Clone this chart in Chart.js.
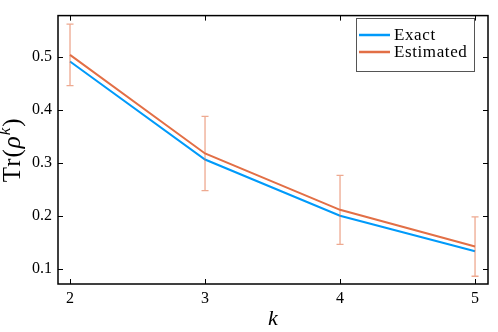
<!DOCTYPE html>
<html>
<head>
<meta charset="utf-8">
<script src="https://cdn.jsdelivr.net/npm/chart.js@4/dist/chart.umd.min.js"></script>
<style>
  html, body { margin: 0; padding: 0; background: #fff; }
  #wrap { width: 498px; height: 332px; }
</style>
</head>
<body>
<div id="wrap"><canvas id="chart"></canvas></div>
<script>
const kValues = [2, 3, 4, 5];
const exactValues = [0.4915, 0.3066, 0.2005, 0.1337];
const estimatedValues = [0.504, 0.318, 0.2117, 0.1424];
const errorValues = [0.058, 0.070, 0.065, 0.056];
const xTicks = [2, 3, 4, 5];
const yTicks = [0.1, 0.2, 0.3, 0.4, 0.5];

const FONT = "'Liberation Serif', 'Times New Roman', serif";

function toPoints(values) {
  return kValues.map(function (k, i) {
    return { x: k, y: values[i] };
  });
}

// error bars on the estimated series
const errorBarPlugin = {
  id: "errorBars",
  afterDatasetsDraw: function (chart) {
    const ctx = chart.ctx;
    const x = chart.scales.x;
    const y = chart.scales.y;
    ctx.save();
    ctx.strokeStyle = "rgba(226, 111, 70, 0.6)";
    ctx.lineWidth = 1.3;
    kValues.forEach(function (k, i) {
      const px = x.getPixelForValue(k);
      const top = y.getPixelForValue(estimatedValues[i] + errorValues[i]);
      const bot = y.getPixelForValue(estimatedValues[i] - errorValues[i]);
      ctx.beginPath();
      ctx.moveTo(px, top);
      ctx.lineTo(px, bot);
      ctx.moveTo(px - 3.5, top);
      ctx.lineTo(px + 3.5, top);
      ctx.moveTo(px - 3.5, bot);
      ctx.lineTo(px + 3.5, bot);
      ctx.stroke();
    });
    ctx.restore();
  }
};

// box frame, inward ticks, y title with superscript, legend box
const framePlugin = {
  id: "frame",
  afterDraw: function (chart) {
    const ctx = chart.ctx;
    const a = chart.chartArea;
    const x = chart.scales.x;
    const y = chart.scales.y;
    ctx.save();
    ctx.strokeStyle = "#000";
    ctx.lineWidth = 1.5;
    ctx.strokeRect(a.left, a.top, a.right - a.left, a.bottom - a.top);

    ctx.lineWidth = 1;
    ctx.beginPath();
    xTicks.forEach(function (t) {
      const px = Math.round(x.getPixelForValue(t)) + 0.5;
      ctx.moveTo(px, a.bottom);
      ctx.lineTo(px, a.bottom - 5);
      ctx.moveTo(px, a.top);
      ctx.lineTo(px, a.top + 5);
    });
    yTicks.forEach(function (t) {
      const py = Math.round(y.getPixelForValue(t)) + 0.5;
      ctx.moveTo(a.left, py);
      ctx.lineTo(a.left + 5, py);
      ctx.moveTo(a.right, py);
      ctx.lineTo(a.right - 5, py);
    });
    ctx.stroke();

    // y title: Tr(ρ^k)
    ctx.fillStyle = "#000";
    ctx.textBaseline = "alphabetic";
    ctx.letterSpacing = "1px";
    const big = "25px " + FONT;
    const bigIt = "italic 25px " + FONT;
    const small = "italic 17px " + FONT;
    const parts = [
      { t: "Tr(", f: big, dy: 0 },
      { t: "\u03c1", f: bigIt, dy: 0 },
      { t: "k", f: small, dy: -10 },
      { t: ")", f: big, dy: 0 }
    ];
    let total = 0;
    parts.forEach(function (p) {
      ctx.font = p.f;
      p.w = ctx.measureText(p.t).width;
      total += p.w;
    });
    ctx.translate(20, (a.top + a.bottom) / 2);
    ctx.rotate(-Math.PI / 2);
    let cx = -total / 2;
    parts.forEach(function (p) {
      ctx.font = p.f;
      ctx.fillText(p.t, cx, p.dy);
      cx += p.w;
    });
    ctx.setTransform(1, 0, 0, 1, 0, 0);

    // legend
    const lx = 356, ly = 18, lw = 118, lh = 53;
    ctx.fillStyle = "#fff";
    ctx.fillRect(lx, ly, lw, lh);
    ctx.strokeStyle = "#555";
    ctx.lineWidth = 1;
    ctx.strokeRect(lx + 0.5, ly + 0.5, lw, lh);
    ctx.font = "17px " + FONT;
    ctx.letterSpacing = "0.6px";
    ctx.textBaseline = "middle";
    chart.data.datasets.forEach(function (ds, i) {
      const yy = ly + 17 + i * 17;
      ctx.strokeStyle = ds.borderColor;
      ctx.lineWidth = 2.5;
      ctx.beginPath();
      ctx.moveTo(lx + 3, yy);
      ctx.lineTo(lx + 34, yy);
      ctx.stroke();
      ctx.fillStyle = "#000";
      ctx.fillText(ds.label, lx + 38, yy + 1);
    });
    ctx.restore();
  }
};

new Chart(document.getElementById("chart").getContext("2d"), {
  type: "line",
  data: {
    datasets: [
      {
        label: "Exact",
        data: toPoints(exactValues),
        borderColor: "#009AFA",
        borderWidth: 2,
        pointRadius: 0,
        tension: 0
      },
      {
        label: "Estimated",
        data: toPoints(estimatedValues),
        borderColor: "#E26F46",
        borderWidth: 2,
        pointRadius: 0,
        tension: 0
      }
    ]
  },
  options: {
    responsive: true,
    maintainAspectRatio: false,
    animation: false,
    layout: { padding: { top: 9, right: 10, left: 0, bottom: 0 } },
    plugins: {
      legend: { display: false },
      tooltip: { enabled: false }
    },
    scales: {
      x: {
        type: "linear",
        min: 1.911,
        max: 5.096,
        afterBuildTicks: function (scale) {
          scale.ticks = xTicks.map(function (v) { return { value: v }; });
        },
        afterFit: function (scale) { scale.height = 48; },
        grid: { display: false, drawTicks: false },
        border: { display: false },
        ticks: {
          padding: 5,
          color: "#000",
          font: { family: FONT, size: 16 },
          maxRotation: 0,
          callback: function (v) { return String(v); }
        },
        title: {
          display: true,
          text: "k",
          color: "#000",
          font: { family: FONT, size: 22, style: "italic" },
          padding: { top: 0, bottom: 0 }
        }
      },
      y: {
        min: 0.0718,
        max: 0.578,
        afterBuildTicks: function (scale) {
          scale.ticks = yTicks.map(function (v) { return { value: v }; });
        },
        afterFit: function (scale) { scale.width = 58; },
        grid: { display: false, drawTicks: false },
        border: { display: false },
        ticks: {
          padding: 6,
          color: "#000",
          font: { family: FONT, size: 16 },
          callback: function (v) { return v.toFixed(1); }
        }
      }
    }
  },
  plugins: [errorBarPlugin, framePlugin]
});
</script>
</body>
</html>
